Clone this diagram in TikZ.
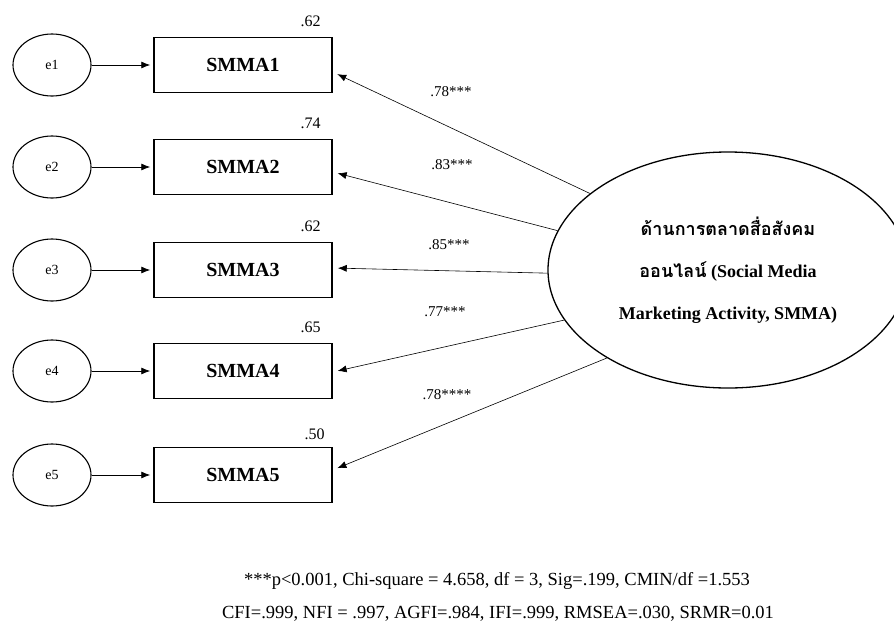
\documentclass[tikz,border=0pt]{standalone}
\usepackage{fontspec}
\setmainfont{Liberation Serif}
\newfontfamily\thaifont[Script=Thai]{Loma}
\usetikzlibrary{shapes.geometric,arrows.meta}

\begin{document}
\begin{tikzpicture}[x=1pt,y=-1pt,
  errnode/.style={ellipse,draw,line width=1.1pt,minimum width=78pt,minimum height=62pt,
    inner sep=0pt,font=\fontsize{14}{16}\selectfont},
  obsnode/.style={rectangle,draw,line width=1.5pt,minimum width=178pt,minimum height=55pt,
    inner sep=0pt,font=\fontsize{20}{22}\selectfont\bfseries},
  rsq/.style={font=\fontsize{16}{18}\selectfont,anchor=south east,inner sep=0pt},
  errarrow/.style={-{Latex[length=9pt,width=7pt]},line width=0.8pt,shorten >=3pt},
  loadarrow/.style={-{Latex[length=9pt,width=7pt]},line width=0.6pt,shorten >=5pt},
  coef/.style={font=\fontsize{15}{17}\selectfont,inner sep=0pt},
  latent/.style={ellipse,draw,line width=1.3pt,minimum width=360pt,minimum height=236pt,
    inner sep=0pt,align=center,font=\fontsize{18}{42}\selectfont\bfseries},
  fitnote/.style={font=\fontsize{18.5}{20}\selectfont,inner sep=0pt}
]
\useasboundingbox (0,0) rectangle (894,627);
\clip (0,0) rectangle (894,627);

% error terms
\node[errnode] (e1) at (52,65)  {e1};
\node[errnode] (e2) at (52,167) {e2};
\node[errnode] (e3) at (52,270) {e3};
\node[errnode] (e4) at (52,371) {e4};
\node[errnode] (e5) at (52,475) {e5};

% observed indicators
\node[obsnode] (s1) at (243,65)  {SMMA1};
\node[obsnode] (s2) at (243,167) {SMMA2};
\node[obsnode] (s3) at (243,270) {SMMA3};
\node[obsnode] (s4) at (243,371) {SMMA4};
\node[obsnode] (s5) at (243,475) {SMMA5};

% squared multiple correlations
\node[rsq] (r1) at ([xshift=-12pt,yshift=10pt]s1.north east) {.62};
\node[rsq] (r2) at ([xshift=-12pt,yshift=10pt]s2.north east) {.74};
\node[rsq] (r3) at ([xshift=-12pt,yshift=10pt]s3.north east) {.62};
\node[rsq] (r4) at ([xshift=-12pt,yshift=10pt]s4.north east) {.65};
\node[rsq] (r5) at ([xshift=-8pt,yshift=7pt]s5.north east) {.50};

% latent construct
\node[latent] (lv) at (728,270)
  {{\thaifont ด้านการตลาดสื่อสังคม}\\
   {\thaifont ออนไลน์} (Social Media\\
   Marketing Activity, SMMA)};

% error paths
\foreach \i in {1,...,5} {
  \draw[errarrow] (e\i.east) -- (s\i.west);
}

% factor loadings
\draw[loadarrow] (lv.151) -- ([yshift=-7pt]s1.east);
\draw[loadarrow] (lv.167.5) -- ([yshift=-5pt]s2.east);
\draw[loadarrow] (lv.181) -- ([yshift=2pt]s3.east);
\draw[loadarrow] (lv.197) -- ([yshift=-1pt]s4.east);
\draw[loadarrow] (lv.216) -- ([yshift=5pt]s5.east);

\node[coef] (c1) at (451,92)  {.78***};
\node[coef] (c2) at (452,165) {.83***};
\node[coef] (c3) at (449,245) {.85***};
\node[coef] (c4) at (445,312) {.77***};
\node[coef] (c5) at (447,395) {.78****};

% fit indices
\node[fitnote] (f1) at (497,581) {***p<0.001, Chi-square = 4.658, df = 3, Sig=.199, CMIN/df =1.553};
\node[fitnote] (f2) at (498,614) {CFI=.999, NFI = .997, AGFI=.984, IFI=.999, RMSEA=.030, SRMR=0.01};
\end{tikzpicture}
\end{document}
